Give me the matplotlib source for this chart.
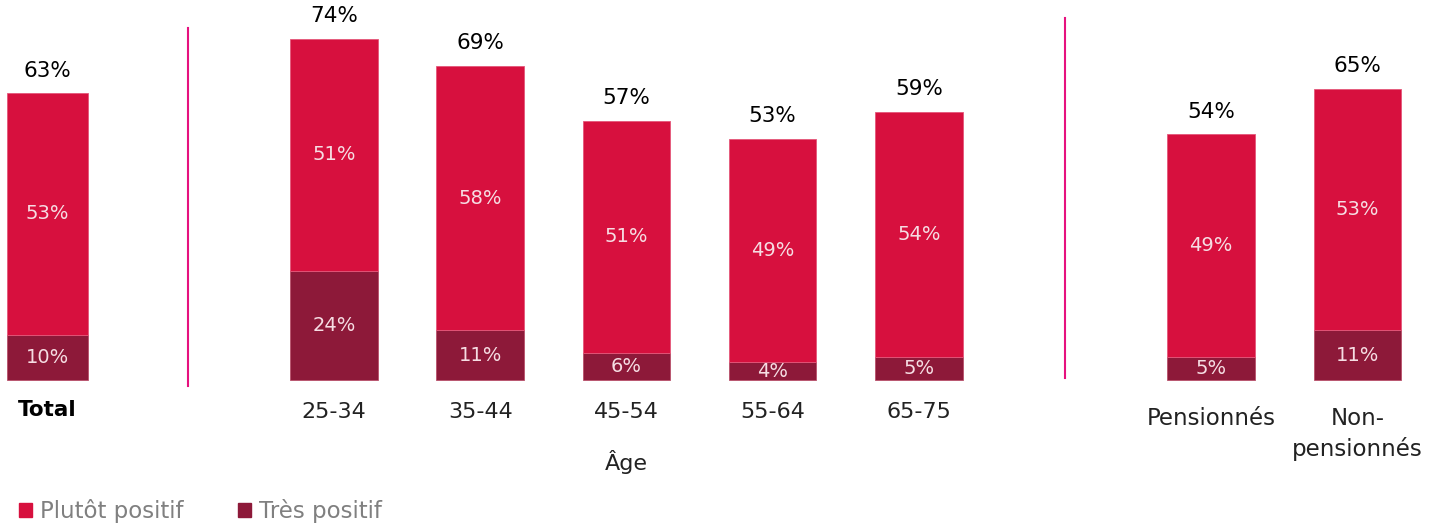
import matplotlib.pyplot as plt
from matplotlib.patches import Patch

# data
total_tres = [10]
total_plutot = [53]
total_sum = [63]

age_labels = ['25-34', '35-44', '45-54', '55-64', '65-75']
age_tres = [24, 11, 6, 4, 5]
age_plutot = [51, 58, 51, 49, 54]
age_sum = [74, 69, 57, 53, 59]

pens_labels = ['Pensionnés', 'Non-\npensionnés']
pens_tres = [5, 11]
pens_plutot = [49, 53]
pens_sum = [54, 65]

c_plutot = '#D7103E'
c_tres = '#8D1939'
c_sep = '#E6117E'
c_inner = '#F6DDE3'

plt.rcParams['font.family'] = ['DejaVu Sans']

fig = plt.figure(figsize=(14.47, 5.24), dpi=100)
ax = fig.add_axes([0, 0, 1, 1])
ax.set_xlim(-0.285, 9.613)
ax.set_ylim(-31.6, 83.5)
ax.axis('off')


def draw_group(xs, tres, plutot, sums, width):
    ax.bar(xs, tres, width=width, color=c_tres, edgecolor='#B8506A', linewidth=0.6)
    ax.bar(xs, plutot, bottom=tres, width=width, color=c_plutot, edgecolor='#E5577A', linewidth=0.6)
    for x, t, p, s in zip(xs, tres, plutot, sums):
        ax.text(x, t / 2, f'{t}%', ha='center', va='center', color=c_inner, fontsize=14)
        ax.text(x, t + p / 2, f'{p}%', ha='center', va='center', color=c_inner, fontsize=14)
        ax.text(x, t + p + 5.0, f'{s}%', ha='center', va='center', color='black', fontsize=15.5)


# Total
xt = [0.04]
draw_group(xt, total_tres, total_plutot, total_sum, 0.56)
ax.text(xt[0], -6.6, 'Total', ha='center', va='center', fontsize=15.5, fontweight='bold', color='black')

# Age
xa = [2 + i for i in range(len(age_labels))]
draw_group(xa, age_tres, age_plutot, age_sum, 0.6)
for x, lab in zip(xa, age_labels):
    ax.text(x, -7.0, lab, ha='center', va='center', fontsize=16, color='#222222')
ax.text(4, -18.0, 'Âge', ha='center', va='center', fontsize=16, color='#222222')

# Pension
xp = [8 + i for i in range(len(pens_labels))]
draw_group(xp, pens_tres, pens_plutot, pens_sum, 0.6)
for x, lab in zip(xp, pens_labels):
    ax.text(x, -6.0, lab, ha='center', va='top', fontsize=16.5, color='#222222', linespacing=1.35)

# separators
ax.plot([1.0, 1.0], [-1.3, 77.3], color=c_sep, linewidth=1.5)
ax.plot([7.0, 7.0], [0.4, 79.5], color=c_sep, linewidth=1.5)

handles = [Patch(color=c_plutot, label='Plutôt positif'), Patch(color=c_tres, label='Très positif')]
fig.legend(handles=handles, loc='lower left', bbox_to_anchor=(-0.001, -0.037), ncol=2, frameon=False,
           fontsize=16.5, labelcolor='#808080', handlelength=0.55, handleheight=0.55,
           handletextpad=0.35, columnspacing=2.4)

fig.savefig('out.png', dpi=100)
